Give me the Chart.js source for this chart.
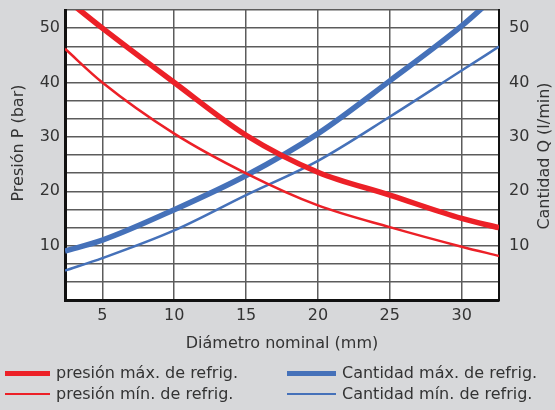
<!DOCTYPE html>
<html>
<head>
<meta charset="utf-8">
<script src="https://cdn.jsdelivr.net/npm/chart.js@4.4.1/dist/chart.umd.min.js"></script>
<style>
  html, body { margin: 0; padding: 0; background: #d7d8da; }
  #wrap { position: relative; width: 555px; height: 410px; }
  #grafico { position: absolute; left: 0; top: 0; }
  .leyenda { position: absolute; font-family: "DejaVu Sans", sans-serif; font-size: 16px; color: #333; white-space: nowrap; }
  .leyenda span.linea { position: absolute; top: 50%; }
  .leyenda span.texto { position: absolute; top: 0; line-height: 20px; }
</style>
</head>
<body>
<div id="wrap">
  <canvas id="grafico" width="555" height="410"></canvas>
  <div id="leyenda"></div>
</div>
<script>
// Diámetro nominal (mm)
const diametros = [2.4, 5, 10, 15, 20, 25, 30, 32.6];
// Presión P (bar)
const presionMax = [55.5, 50, 40, 30.3, 23.5, 19.3, 15.0, 13.3];
const presionMin = [46.2, 40, 30.6, 23.3, 17.4, 13.4, 9.8, 8.1];
// Cantidad Q (l/min)
const cantidadMax = [9.0, 11.0, 16.6, 22.9, 30.6, 40.3, 50.4, 56.5];
const cantidadMin = [5.4, 7.7, 12.8, 19.3, 25.6, 33.7, 42.2, 46.6];

const xTicks = [5, 10, 15, 20, 25, 30];
const yTicks = [10, 20, 30, 40, 50];

const rojo = "#ec2027";
const azul = "#4571b9";
const textoColor = "#333333";

function puntos(valores) {
    return diametros.map((d, i) => ({ x: d, y: valores[i] }));
}

const series = [
    { label: "presión máx. de refrig.", data: presionMax, color: rojo, ancho: 5.5, eje: "y" },
    { label: "presión mín. de refrig.", data: presionMin, color: rojo, ancho: 2.5, eje: "y" },
    { label: "Cantidad máx. de refrig.", data: cantidadMax, color: azul, ancho: 5.5, eje: "y1" },
    { label: "Cantidad mín. de refrig.", data: cantidadMin, color: azul, ancho: 2.5, eje: "y1" }
];

// fondo blanco del área del gráfico y títulos verticales
const fondoPlugin = {
    id: "fondo",
    beforeDraw(chart) {
        const a = chart.chartArea;
        const c = chart.ctx;
        c.save();
        c.fillStyle = "#ffffff";
        c.fillRect(a.left, a.top, a.right - a.left, a.bottom - a.top);
        c.restore();
    },
    afterDraw(chart) {
        const c = chart.ctx;
        c.save();
        c.fillStyle = textoColor;
        c.font = "16px 'DejaVu Sans'";
        c.textAlign = "center";
        c.textBaseline = "middle";
        c.translate(19, 143);
        c.rotate(-Math.PI / 2);
        c.fillText("Presión P (bar)", 0, 0);
        c.restore();
        c.save();
        c.fillStyle = textoColor;
        c.font = "16px 'DejaVu Sans'";
        c.textAlign = "center";
        c.textBaseline = "middle";
        c.translate(545, 156);
        c.rotate(-Math.PI / 2);
        c.fillText("Cantidad Q (l/min)", 0, 0);
        c.restore();
    }
};

const esMarca = (v, lista) => lista.some(t => Math.abs(t - v) < 1e-6);

function sinRelleno(scale) {
    scale.paddingTop = 0;
    scale.paddingBottom = 0;
    scale.paddingLeft = 0;
    scale.paddingRight = 0;
}

function ticksY(scale) {
    const t = [];
    for (let k = 0; k <= 16; k++) t.push({ value: k * 10 / 3 });
    scale.ticks = t;
}

const ctx = document.getElementById("grafico");
new Chart(ctx, {
    type: "line",
    data: {
        datasets: series.map((s, i) => ({
            label: s.label,
            data: puntos(s.data),
            borderColor: s.color,
            borderWidth: s.ancho,
            pointRadius: 0,
            fill: false,
            cubicInterpolationMode: "monotone",
            yAxisID: s.eje,
            order: i
        }))
    },
    options: {
        responsive: false,
        animation: false,
        layout: { padding: { top: 10, bottom: 50, left: 0, right: 0 } },
        plugins: {
            legend: { display: false },
            tooltip: { enabled: false }
        },
        scales: {
            x: {
                type: "linear",
                min: 2.4,
                max: 32.6,
                afterBuildTicks: (scale) => {
                    scale.ticks = [2.4].concat(xTicks, [32.6]).map(v => ({ value: v }));
                },
                afterFit: (scale) => { scale.height = 60; sinRelleno(scale); },
                ticks: {
                    color: textoColor,
                    font: { family: "DejaVu Sans", size: 16 },
                    padding: 6,
                    maxRotation: 0,
                    autoSkip: false,
                    callback: (v) => esMarca(v, xTicks) ? String(v) : ""
                },
                grid: { color: "#5c5c5c", lineWidth: 1.5, drawTicks: false },
                border: { color: "#111111", width: 3 },
                title: {
                    display: true,
                    text: "Diámetro nominal (mm)",
                    color: textoColor,
                    font: { family: "DejaVu Sans", size: 16 },
                    padding: { top: 0, bottom: 7 }
                }
            },
            y: {
                position: "left",
                min: 0,
                max: 160 / 3,
                afterBuildTicks: ticksY,
                afterFit: (scale) => { scale.width = 65; sinRelleno(scale); },
                ticks: {
                    color: textoColor,
                    font: { family: "DejaVu Sans", size: 16 },
                    padding: 5,
                    autoSkip: false,
                    callback: (v) => esMarca(v, yTicks) ? String(Math.round(v)) : ""
                },
                grid: { color: "#5c5c5c", lineWidth: 1.5, drawTicks: false },
                border: { color: "#111111", width: 3 }
            },
            y1: {
                position: "right",
                min: 0,
                max: 160 / 3,
                afterBuildTicks: ticksY,
                afterFit: (scale) => { scale.width = 56; sinRelleno(scale); },
                ticks: {
                    color: textoColor,
                    font: { family: "DejaVu Sans", size: 16 },
                    padding: 10,
                    autoSkip: false,
                    callback: (v) => esMarca(v, yTicks) ? String(Math.round(v)) : ""
                },
                grid: { display: false, drawTicks: false },
                border: { color: "#111111", width: 2 }
            }
        }
    },
    plugins: [fondoPlugin]
});

// leyenda en dos columnas
const leyenda = document.getElementById("leyenda");
const columnas = [
    { x: 5, linea: 45, texto: 51 },
    { x: 287, linea: 49, texto: 55 }
];
series.forEach((s, i) => {
    const col = columnas[Math.floor(i / 2)];
    const fila = i % 2;
    const item = document.createElement("div");
    item.className = "leyenda";
    item.style.left = col.x + "px";
    item.style.top = (363 + fila * 21) + "px";
    item.style.height = "20px";
    const grosor = s.ancho > 4 ? 5 : 2.5;
    const linea = document.createElement("span");
    linea.className = "linea";
    linea.style.left = "0px";
    linea.style.width = col.linea + "px";
    linea.style.height = grosor + "px";
    linea.style.marginTop = (-grosor / 2) + "px";
    linea.style.background = s.color;
    const texto = document.createElement("span");
    texto.className = "texto";
    texto.style.left = col.texto + "px";
    texto.textContent = s.label;
    item.appendChild(linea);
    item.appendChild(texto);
    leyenda.appendChild(item);
});
</script>
</body>
</html>
